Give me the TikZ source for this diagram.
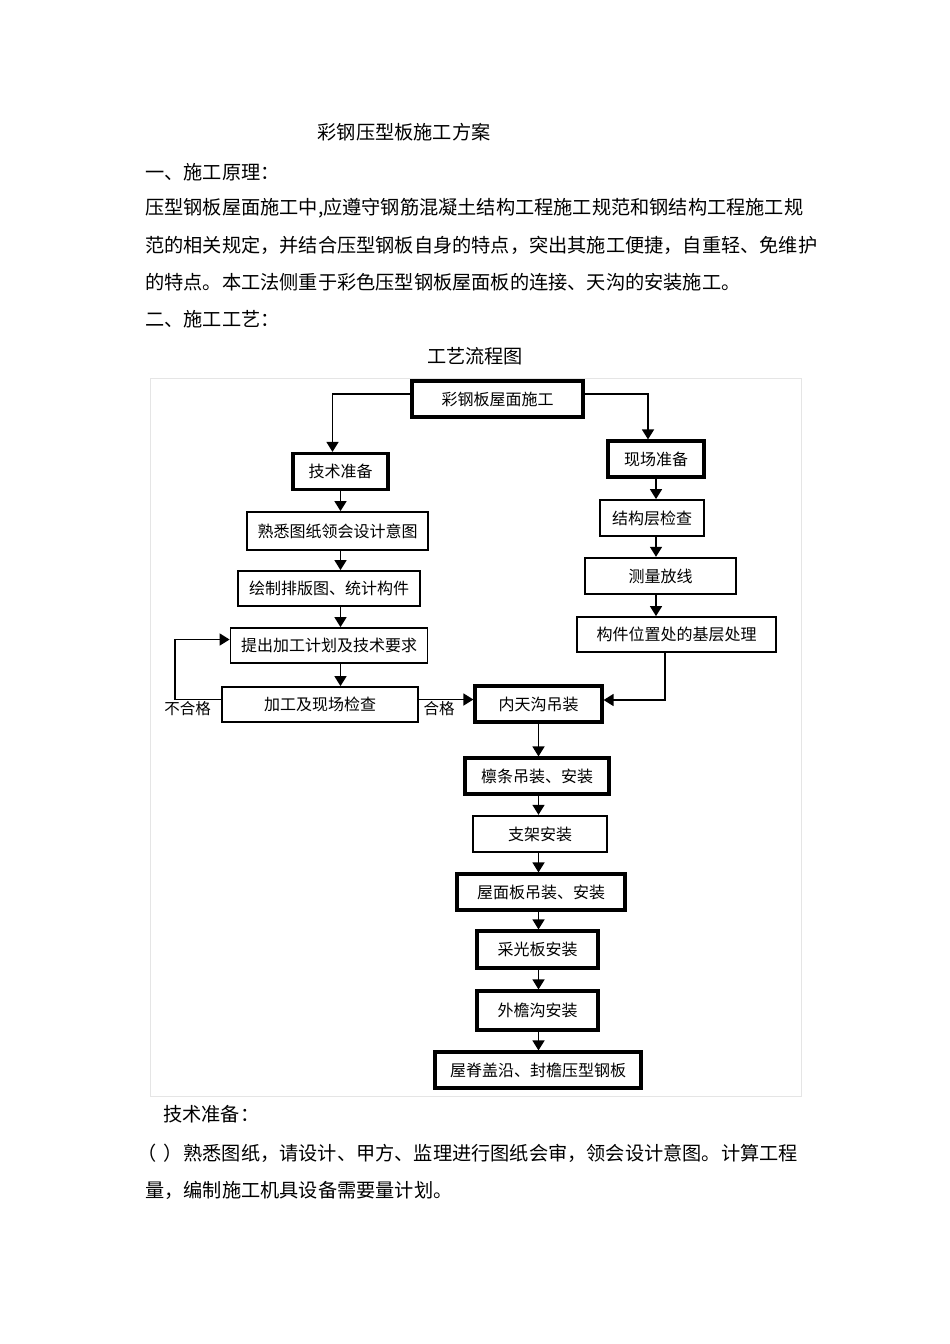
\documentclass[tikz,border=0pt]{standalone}
\usepackage{fontspec}
\setmainfont{Noto Sans CJK SC}
\usetikzlibrary{arrows.meta}

\tikzset{
  box/.style={draw, line width=1.8pt, minimum height=36pt, inner sep=0pt,
    font=\fontsize{16}{17}\selectfont},
  boldbox/.style={box, line width=3.2pt},
  arr/.style={line width=1.6pt, -{Triangle[length=10pt,width=12pt]}},
  txt/.style={anchor=west, inner sep=0pt, font=\fontsize{19.2}{20}\selectfont},
  lbl/.style={inner sep=0pt, font=\fontsize{15.5}{16}\selectfont},
}

\begin{document}
\begin{tikzpicture}[x=1pt, y=-1pt]
    \useasboundingbox (0,0) rectangle (950,1344);

    % Heading and text above the chart
    \node[txt, anchor=center] (title) at (404,132) {彩钢压型板施工方案};
    \node[txt] (sec1) at (145,172) {一、施工原理：};
    \node[txt] (para1) at (145,208) {压型钢板屋面施工中,应遵守钢筋混凝土结构工程施工规范和钢结构工程施工规};
    \node[txt] (para2) at (145,245) {范的相关规定，并结合压型钢板自身的特点，突出其施工便捷，自重轻、免维护};
    \node[txt] (para3) at (145,282) {的特点。本工法侧重于彩色压型钢板屋面板的连接、天沟的安装施工。};
    \node[txt] (sec2) at (145,319) {二、施工工艺：};
    \node[txt, anchor=center] (charttitle) at (475,356) {工艺流程图};

    % Frame of the chart
    \draw[gray!20, line width=1pt] (150,378) rectangle (801,1096);

    % Top box
    \node[boldbox, minimum width=171pt] (roof) at (497.5,399) {彩钢板屋面施工};

    % Left branch
    \node[boldbox, minimum width=95pt] (tech) at (340.5,471.5) {技术准备};
    \node[box, minimum width=181pt, minimum height=38pt] (drawings) at (337.5,531) {熟悉图纸领会设计意图};
    \node[box, minimum width=182pt, minimum height=35pt] (layout) at (329,588.5) {绘制排版图、统计构件};
    \node[box, minimum width=197pt, minimum height=35pt] (plan) at (329,645.5) {提出加工计划及技术要求};
    \node[box, minimum width=196pt, minimum height=35pt] (check) at (320,704.5) {加工及现场检查};

    % Right branch
    \node[boldbox, minimum width=96pt] (site) at (656,459) {现场准备};
    \node[box, minimum width=104pt] (layer) at (652,518) {结构层检查};
    \node[box, line width=2.4pt, minimum width=151pt] (survey) at (660.5,576) {测量放线};
    \node[box, minimum width=199pt, minimum height=35pt] (base) at (676.5,634.5) {构件位置处的基层处理};

    % Main column
    \node[boldbox, minimum width=127pt, minimum height=36pt] (gutter) at (538.5,704) {内天沟吊装};
    \node[boldbox, minimum width=144pt] (purlin) at (537,776) {檩条吊装、安装};
    \node[box, line width=2.4pt, minimum width=134pt] (bracket) at (540,834) {支架安装};
    \node[boldbox, minimum width=168pt] (panel) at (541,892) {屋面板吊装、安装};
    \node[boldbox, minimum width=121pt, minimum height=37pt] (skylight) at (537.5,949.5) {采光板安装};
    \node[boldbox, minimum width=121pt, minimum height=39pt] (eaves) at (537.5,1010.5) {外檐沟安装};
    \node[boldbox, minimum width=206pt] (ridge) at (538,1070) {屋脊盖沿、封檐压型钢板};

    % Branching from the top box
    \draw[arr] ([yshift=5pt]roof.west) -| ([xshift=-8pt]tech.north);
    \draw[arr] ([yshift=5pt]roof.east) -| ([xshift=-8pt]site.north);

    % Left column arrows
    \draw[arr] (tech.south) -- (tech.south |- drawings.north);
    \draw[arr] (tech.south |- drawings.south) -- (tech.south |- layout.north);
    \draw[arr] (tech.south |- layout.south) -- (tech.south |- plan.north);
    \draw[arr] (tech.south |- plan.south) -- (tech.south |- check.north);

    % Rework loop
    \draw[arr] ([yshift=5pt]check.west) -- ++(-46,0) |- ([yshift=6pt]plan.west);
    \node[lbl] (fail) at (187.5,709) {不合格};

    % Passed to inner gutter
    \draw[arr] ([yshift=5pt]check.east) -- ([yshift=5pt]check.east -| gutter.west);
    \node[lbl] (pass) at (439,709) {合格};

    % Right column arrows
    \draw[arr] (site.south) -- (site.south |- layer.north);
    \draw[arr] (site.south |- layer.south) -- (site.south |- survey.north);
    \draw[arr] (site.south |- survey.south) -- (site.south |- base.north);
    \draw[arr] ([xshift=-11.5pt]base.south) |- ([yshift=4pt]gutter.east);

    % Main column arrows
    \draw[arr] (gutter.south) -- (gutter.south |- purlin.north);
    \draw[arr] (gutter.south |- purlin.south) -- (gutter.south |- bracket.north);
    \draw[arr] (gutter.south |- bracket.south) -- (gutter.south |- panel.north);
    \draw[arr] (gutter.south |- panel.south) -- (gutter.south |- skylight.north);
    \draw[arr] (gutter.south |- skylight.south) -- (gutter.south |- eaves.north);
    \draw[arr] (gutter.south |- eaves.south) -- (gutter.south |- ridge.north);

    % Text below the chart
    \node[txt] (techhead) at (163,1114) {技术准备：};
    \node[txt] (item1) at (145,1153) {\hspace{-8pt}（\hspace{7pt}）\hspace{1pt}熟悉图纸，请设计、甲方、监理进行图纸会审，领会设计意图。计算工程};
    \node[txt] (item1b) at (145,1190) {量，编制施工机具设备需要量计划。};
\end{tikzpicture}
\end{document}
